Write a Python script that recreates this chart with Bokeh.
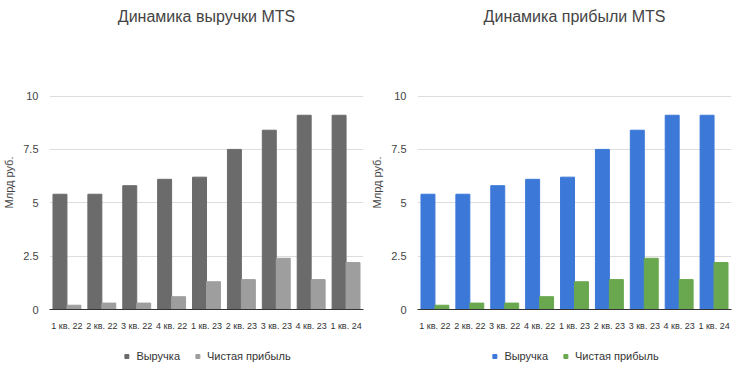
from bokeh.plotting import figure
from bokeh.layouts import row, column
from bokeh.models import ColumnDataSource, Legend, LegendItem, FixedTicker, Title
from bokeh.transform import dodge
from bokeh.embed import file_html
from bokeh.resources import INLINE

quarters = ["1 кв. 22", "2 кв. 22", "3 кв. 22", "4 кв. 22", "1 кв. 23",
            "2 кв. 23", "3 кв. 23", "4 кв. 23", "1 кв. 24"]
revenue = [5.4, 5.4, 5.8, 6.1, 6.2, 7.5, 8.4, 9.1, 9.1]
net_profit = [0.2, 0.3, 0.3, 0.6, 1.3, 1.4, 2.4, 1.4, 2.2]
y_ticks = [0, 2.5, 5, 7.5, 10]
series_names = ["Выручка", "Чистая прибыль"]

FONT = "Liberation Sans"


def make_panel(title, c_rev, c_np):
    src = ColumnDataSource(dict(q=quarters, rev=revenue, np_=net_profit))
    p = figure(x_range=quarters, y_range=(0, 11.9), width=368, height=333,
               output_backend="svg", toolbar_location=None, title=title)
    # empty spacer title above the real one, to push the title down
    p.add_layout(Title(text=" ", text_font_size="12px"), "above")
    p.vbar(x=dodge("q", -0.2, range=p.x_range), top="rev", width=0.4,
           source=src, color=c_rev)
    p.vbar(x=dodge("q", 0.2, range=p.x_range), top="np_", width=0.4,
           source=src, color=c_np)
    p.title.align = "center"
    p.title.text_font = FONT
    p.title.text_font_size = "16px"
    p.title.text_font_style = "normal"
    p.title.text_color = "#444444"
    p.outline_line_color = None
    p.xgrid.grid_line_color = None
    p.ygrid.grid_line_color = "#dddddd"
    p.yaxis.ticker = FixedTicker(ticks=y_ticks)
    p.yaxis.axis_line_color = None
    p.yaxis.major_tick_line_color = None
    p.yaxis.minor_tick_line_color = None
    p.yaxis.axis_label = "Млрд руб."
    p.yaxis.axis_label_text_font = FONT
    p.yaxis.axis_label_text_font_size = "11px"
    p.yaxis.axis_label_text_font_style = "normal"
    p.yaxis.axis_label_text_color = "#444444"
    p.yaxis.major_label_text_font = FONT
    p.yaxis.major_label_text_font_size = "11px"
    p.yaxis.major_label_text_color = "#444444"
    p.xaxis.axis_line_color = "#333333"
    p.xaxis.major_tick_line_color = None
    p.xaxis.major_label_text_font = FONT
    p.xaxis.major_label_text_font_size = "9px"
    p.xaxis.major_label_text_color = "#333333"

    # separate strip that only carries the legend (below the chart)
    lf = figure(width=368, height=45, x_range=(0, 1), y_range=(0, 1),
                output_backend="svg", toolbar_location=None,
                min_border=0)
    lf.axis.visible = False
    lf.grid.visible = False
    lf.outline_line_color = None
    g1 = lf.scatter(x=[-5], y=[-5], marker="square", color=c_rev)
    g2 = lf.scatter(x=[-5], y=[-5], marker="square", color=c_np)
    legend = Legend(items=[LegendItem(label=series_names[0], renderers=[g1]),
                           LegendItem(label=series_names[1], renderers=[g2])],
                    orientation="horizontal", location="center")
    legend.label_text_font = FONT
    legend.label_text_font_size = "11px"
    legend.label_text_color = "#333333"
    legend.glyph_width = 10
    legend.glyph_height = 10
    legend.border_line_color = None
    legend.background_fill_alpha = 0
    legend.spacing = 12
    legend.margin = 2
    legend.padding = 2
    lf.add_layout(legend)
    return column(p, lf, spacing=0)


left = make_panel("Динамика выручки MTS", "#6b6b6b", "#9e9e9e")
right = make_panel("Динамика прибыли MTS", "#3c78d8", "#6aa84f")

layout = row(left, right)
open("out.html", "w").write(file_html(layout, INLINE))
